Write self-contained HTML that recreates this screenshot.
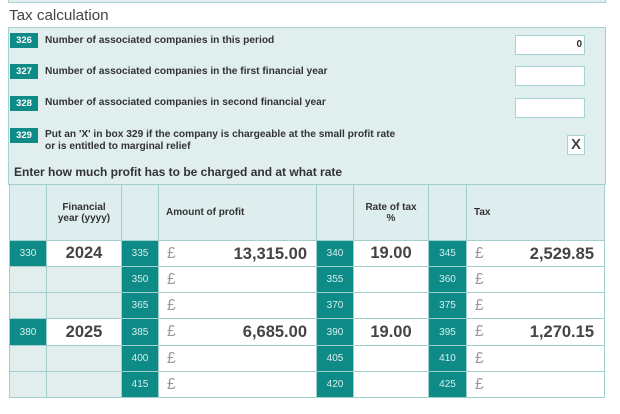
<!DOCTYPE html>
<html><head><meta charset="utf-8"><style>
*{margin:0;padding:0;box-sizing:border-box}
body{width:620px;height:414px;background:#fff;font-family:"Liberation Sans",Arial,sans-serif;position:relative;overflow:hidden;color:#333}
.a{position:absolute}
.topbox{left:8px;top:-10px;width:598px;height:13px;background:#e1efef;border:1px solid #a6d2d1}
.title{left:9px;top:6px;font-size:15.2px;color:#444;line-height:20px}
.panel{left:8px;top:27px;width:598px;height:158px;background:#e0eeee;border:1px solid #a6d2d1}
.bn{background:#0e8b87;color:#fff;font-weight:bold;font-size:9.5px;width:28px;height:15px;line-height:15px;text-align:center;left:10px}
.lbl{left:45px;font-weight:bold;font-size:10.2px;line-height:12px;color:#333}
.inp{left:515px;width:70px;height:20px;background:#fff;border:1px solid #a6d2d1}
.enter{left:14px;top:164px;font-weight:bold;font-size:12px;line-height:16px;color:#333}
.grid{left:9px;top:184px;width:596px;height:214px;background:#a0cfcd;padding:1px;display:grid;grid-template-columns:36px 74px 36px 157px 36px 74px 37px 137px;grid-template-rows:55px 25px 25px 25px 26px 25px 25px;gap:1px}
.grid>div{position:relative}
.h{background:#deeded;font-weight:bold;font-size:10px;line-height:11px;color:#333}
.e{background:#e2eeee}
.t{background:#0e8b87;color:#d6efee;font-size:10px;text-align:center;display:flex;align-items:center;justify-content:center}
.w{background:#fff}
.yr{display:flex;align-items:center;justify-content:center;font-weight:bold;font-size:16.5px;color:#444}
.pd{position:absolute;left:8px;top:50%;transform:translateY(-50%);font-size:15.5px;color:#999;line-height:18px}
.v{position:absolute;right:9px;top:50%;transform:translateY(-50%);font-weight:bold;font-size:16.5px;color:#444;line-height:20px}
.v2{right:10px}
.hc{display:flex;align-items:center;justify-content:center;text-align:center}
.hl{display:flex;align-items:center;padding-left:7px}
</style></head><body>
<div class="a topbox"></div>
<div class="a title">Tax calculation</div>
<div class="a panel"></div>

<div class="a bn" style="top:33px">326</div>
<div class="a lbl" style="top:35px">Number of associated companies in this period</div>
<div class="a inp" style="top:35px"></div>
<div class="a" style="left:515px;top:35px;width:67px;height:20px;line-height:20px;text-align:right;font-weight:bold;font-size:10px;color:#333">0</div>

<div class="a bn" style="top:64px">327</div>
<div class="a lbl" style="top:66px">Number of associated companies in the first financial year</div>
<div class="a inp" style="top:66px"></div>

<div class="a bn" style="top:96px">328</div>
<div class="a lbl" style="top:97px">Number of associated companies in second financial year</div>
<div class="a inp" style="top:98px"></div>

<div class="a bn" style="top:128px">329</div>
<div class="a lbl" style="top:129px">Put an 'X' in box 329 if the company is chargeable at the small profit rate<br>or is entitled to marginal relief</div>
<div class="a" style="left:567px;top:135px;width:18px;height:20px;background:#fff;border:1px solid #a6d2d1;text-align:center;line-height:18px;font-weight:bold;font-size:15px;color:#444">X</div>

<div class="a enter">Enter how much profit has to be charged and at what rate</div>

<div class="a grid">
  <div class="h"></div>
  <div class="h hc">Financial<br>year (yyyy)</div>
  <div class="h"></div>
  <div class="h hl">Amount of profit</div>
  <div class="h"></div>
  <div class="h hc">Rate of tax<br>%</div>
  <div class="h"></div>
  <div class="h hl">Tax</div>

  <div class="t">330</div><div class="w yr">2024</div><div class="t">335</div>
  <div class="w"><span class="pd">£</span><span class="v">13,315.00</span></div>
  <div class="t">340</div><div class="w yr">19.00</div><div class="t">345</div>
  <div class="w"><span class="pd">£</span><span class="v v2">2,529.85</span></div>

  <div class="e"></div><div class="e"></div><div class="t">350</div>
  <div class="w"><span class="pd">£</span></div>
  <div class="t">355</div><div class="w"></div><div class="t">360</div>
  <div class="w"><span class="pd">£</span></div>

  <div class="e"></div><div class="e"></div><div class="t">365</div>
  <div class="w"><span class="pd">£</span></div>
  <div class="t">370</div><div class="w"></div><div class="t">375</div>
  <div class="w"><span class="pd">£</span></div>

  <div class="t">380</div><div class="w yr">2025</div><div class="t">385</div>
  <div class="w"><span class="pd">£</span><span class="v">6,685.00</span></div>
  <div class="t">390</div><div class="w yr">19.00</div><div class="t">395</div>
  <div class="w"><span class="pd">£</span><span class="v v2">1,270.15</span></div>

  <div class="e"></div><div class="e"></div><div class="t">400</div>
  <div class="w"><span class="pd">£</span></div>
  <div class="t">405</div><div class="w"></div><div class="t">410</div>
  <div class="w"><span class="pd">£</span></div>

  <div class="e"></div><div class="e"></div><div class="t">415</div>
  <div class="w"><span class="pd">£</span></div>
  <div class="t">420</div><div class="w"></div><div class="t">425</div>
  <div class="w"><span class="pd">£</span></div>
</div>
</body></html>
